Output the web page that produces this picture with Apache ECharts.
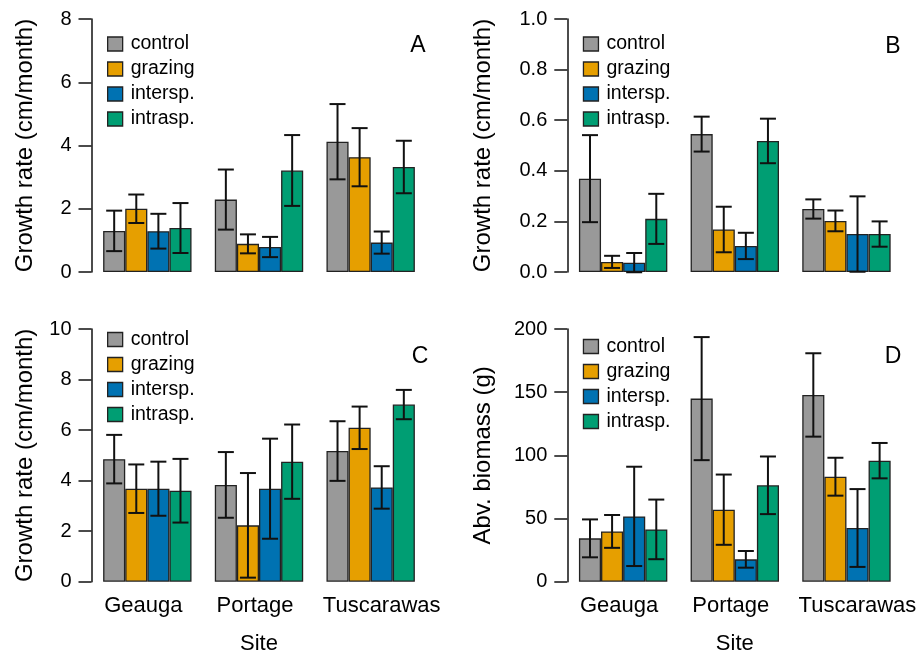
<!DOCTYPE html>
<html>
<head>
<meta charset="utf-8">
<title>Growth and biomass by site</title>
<script src="https://cdn.jsdelivr.net/npm/echarts@6/dist/echarts.min.js"></script>
<style>
  html, body { margin: 0; padding: 0; background: #fff; }
  #chart { width: 917px; height: 651px; }
</style>
</head>
<body>
<div id="chart"></div>
<script>
const sites = ['Geauga', 'Portage', 'Tuscarawas']
const treatments = ['control', 'grazing', 'intersp.', 'intrasp.']
const colors = ['#999999', '#E69F00', '#0072B2', '#009E73']

// rows follow treatments, columns follow sites
// A: growth rate (cm/month)
const meanA = [[1.30, 2.29, 4.12], [2.00, 0.89, 3.63], [1.29, 0.79, 0.93], [1.39, 3.21, 3.32]]
const seA = [[0.64, 0.95, 1.19], [0.45, 0.30, 0.92], [0.55, 0.32, 0.35], [0.79, 1.12, 0.83]]
// B: growth rate (cm/month)
const meanB = [[0.369, 0.545, 0.249], [0.040, 0.168, 0.202], [0.037, 0.103, 0.150], [0.210, 0.518, 0.150]]
const seB = [[0.172, 0.069, 0.038], [0.024, 0.090, 0.041], [0.038, 0.052, 0.149], [0.099, 0.088, 0.050]]
// C: growth rate (cm/month)
const meanC = [[4.85, 3.83, 5.17], [3.68, 2.23, 6.09], [3.68, 3.68, 3.73], [3.60, 4.75, 7.01]]
const seC = [[0.96, 1.30, 1.18], [0.96, 2.07, 0.84], [1.07, 1.98, 0.84], [1.26, 1.47, 0.58]]
// D: above-ground biomass (g)
const meanD = [[34.3, 144.9, 147.8], [39.8, 57.0, 83.1], [51.7, 17.7, 42.5], [41.4, 76.3, 95.8]]
const seD = [[15.0, 48.7, 33.0], [13.0, 27.8, 15.0], [39.3, 6.6, 30.8], [23.6, 22.8, 14.0]]

const font = 'Liberation Sans, Arial, Helvetica, sans-serif'
const barW = 22.1
const capHalf = 8

const panels = [
  { letter: 'A', mean: meanA, se: seA, max: 8, interval: 2, digits: 0, yName: 'Growth rate (cm/month)',
    left: 91.5, top: 19, height: 253, nameGap: 54, legendTop: 34, letterX: 418, letterY: 46, showX: false },
  { letter: 'B', mean: meanB, se: seB, max: 1, interval: 0.2, digits: 1, yName: 'Growth rate (cm/month)',
    left: 567.3, top: 19, height: 253, nameGap: 72, legendTop: 34, letterX: 893, letterY: 47, showX: false },
  { letter: 'C', mean: meanC, se: seC, max: 10, interval: 2, digits: 0, yName: 'Growth rate (cm/month)',
    left: 91.5, top: 329, height: 252.7, nameGap: 54, legendTop: 329.5, letterX: 420, letterY: 357, showX: true },
  { letter: 'D', mean: meanD, se: seD, max: 200, interval: 50, digits: 0, yName: 'Abv. biomass (g)',
    left: 567.3, top: 329, height: 252.7, nameGap: 72, legendTop: 336.5, letterX: 893, letterY: 357, showX: true }
]

function errorRender(params, api) {
  const cat = api.value(0)
  const k = api.value(3)
  const hi = api.coord([cat, api.value(2)])
  const lo = api.coord([cat, api.value(1)])
  const x = hi[0] + (k - 1.5) * barW
  const style = { stroke: '#111', lineWidth: 2 }
  return {
    type: 'group',
    children: [
      { type: 'line', shape: { x1: x, y1: hi[1], x2: x, y2: lo[1] }, style },
      { type: 'line', shape: { x1: x - capHalf, y1: hi[1], x2: x + capHalf, y2: hi[1] }, style },
      { type: 'line', shape: { x1: x - capHalf, y1: lo[1], x2: x + capHalf, y2: lo[1] }, style }
    ]
  }
}

const grid = []
const xAxis = []
const yAxis = []
const legend = []
const series = []
const graphic = []

panels.forEach((p, i) => {
  grid.push({ left: p.left, top: p.top, width: 335, height: p.height, outerBoundsMode: 'none', containLabel: false })
  xAxis.push({
    type: 'category',
    gridIndex: i,
    data: sites,
    name: p.showX ? 'Site' : '',
    nameLocation: 'middle',
    nameGap: 51,
    nameTextStyle: { fontFamily: font, fontSize: 22, color: '#000' },
    axisLine: { show: false },
    axisTick: { show: false },
    axisLabel: {
      show: p.showX,
      interval: 0,
      margin: 13,
      fontFamily: font,
      fontSize: 22,
      color: '#000',
      // the last site label sits a little right of its group in the original
      formatter: (v, idx) => idx === 2 ? '{r|' + v + '}' : '{l|' + v + '}',
      rich: {
        l: { fontFamily: font, fontSize: 22, color: '#000', padding: [0, 8, 0, 0] },
        r: { fontFamily: font, fontSize: 22, color: '#000', padding: [0, 0, 0, 22] }
      }
    },
    splitLine: { show: false }
  })
  yAxis.push({
    type: 'value',
    gridIndex: i,
    min: 0,
    max: p.max,
    interval: p.interval,
    name: p.yName,
    nameLocation: 'middle',
    nameGap: p.nameGap,
    nameTextStyle: { fontFamily: font, fontSize: 24, color: '#000' },
    axisLine: { show: true, lineStyle: { color: '#111', width: 1.5 } },
    axisTick: { show: true, length: 13, lineStyle: { color: '#111', width: 1.5 } },
    axisLabel: {
      margin: 20,
      fontFamily: font,
      fontSize: 20,
      color: '#000',
      formatter: v => v.toFixed(p.digits)
    },
    splitLine: { show: false }
  })
  legend.push({
    orient: 'vertical',
    left: p.left + 15.5,
    top: p.legendTop,
    padding: 0,
    itemWidth: 15,
    itemHeight: 14,
    itemGap: 5,
    selectedMode: false,
    data: treatments,
    icon: 'rect',
    itemStyle: { borderColor: '#222', borderWidth: 1.3 },
    textStyle: { fontFamily: font, fontSize: 19.5, color: '#000', padding: [0, 0, 0, 3] }
  })
  const errData = []
  treatments.forEach((t, k) => {
    series.push({
      name: t,
      type: 'bar',
      xAxisIndex: i,
      yAxisIndex: i,
      barWidth: barW,
      barGap: '0%',
      itemStyle: { color: colors[k], borderColor: '#222', borderWidth: 1.3 },
      data: p.mean[k],
      animation: false
    })
    p.mean[k].forEach((m, s) => {
      errData.push([s, m - p.se[k][s], m + p.se[k][s], k])
    })
  })
  series.push({
    name: 'err' + p.letter,
    type: 'custom',
    xAxisIndex: i,
    yAxisIndex: i,
    renderItem: errorRender,
    encode: { x: 0, y: [1, 2] },
    data: errData,
    z: 5,
    animation: false
  })
  graphic.push({
    type: 'text',
    x: p.letterX,
    y: p.letterY,
    style: { text: p.letter, font: '23px ' + font, fill: '#000', align: 'center', verticalAlign: 'middle' }
  })
})

const chart = echarts.init(document.getElementById('chart'))
chart.setOption({
  backgroundColor: '#fff',
  animation: false,
  grid,
  xAxis,
  yAxis,
  legend,
  series,
  graphic
})
</script>
</body>
</html>
